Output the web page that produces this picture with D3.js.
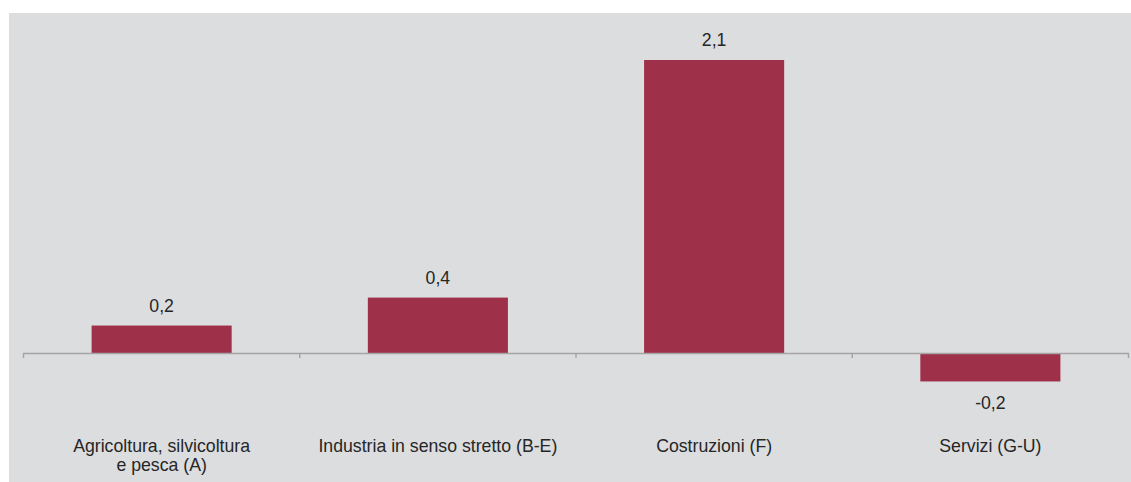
<!DOCTYPE html>
<html><head><meta charset="utf-8">
<script src="https://cdn.jsdelivr.net/npm/d3@7"></script>
<style>html,body{margin:0;padding:0;background:#fff;}svg{display:block;}</style>
</head><body>
<svg id="chart" width="1131" height="482"></svg>
<script>
const categories = [
  ["Agricoltura, silvicoltura", "e pesca (A)"],
  ["Industria in senso stretto (B-E)"],
  ["Costruzioni (F)"],
  ["Servizi (G-U)"]
];
const categoryKeys = ["A", "B-E", "F", "G-U"];
const values = [0.2, 0.4, 2.1, -0.2];
const valueLabels = ["0,2", "0,4", "2,1", "-0,2"];

const svg = d3.select("#chart");
const W = 1131, H = 482;
const font = "'Liberation Sans', Arial, sans-serif";

svg.append("rect").attr("x", 9).attr("y", 13).attr("width", W - 9).attr("height", H - 13)
  .attr("fill", "#dcdddf");

const x = d3.scaleBand().domain(categoryKeys).range([23.5, 1128.5])
  .paddingInner(0.493).paddingOuter(0.2465);
const y = d3.scaleLinear().domain([0, 2.1]).range([353.5, 60]);

// bars
svg.append("g").selectAll("rect").data(values).join("rect")
  .attr("x", (d, i) => x(categoryKeys[i]))
  .attr("width", x.bandwidth())
  .attr("y", d => Math.min(y(d), y(0)))
  .attr("height", d => Math.abs(y(d) - y(0)))
  .attr("fill", "#9f3049");

// axis line
const y0 = y(0);
svg.append("line").attr("x1", 23).attr("x2", 1129).attr("y1", y0).attr("y2", y0)
  .attr("stroke", "#a5a5a5").attr("stroke-width", 1.5);
// ticks at band boundaries
const step = x.step();
const bounds = d3.range(categoryKeys.length + 1).map(i => 23.5 + i * step);
svg.append("g").selectAll("line").data(bounds).join("line")
  .attr("x1", d => d).attr("x2", d => d)
  .attr("y1", y0).attr("y2", y0 + 4.5)
  .attr("stroke", "#a5a5a5").attr("stroke-width", 1.5);

// value labels
svg.append("g").selectAll("text").data(values).join("text")
  .attr("x", (d, i) => x(categoryKeys[i]) + x.bandwidth() / 2)
  .attr("y", d => d >= 0 ? y(d) - 14 : y(d) + 27.5)
  .attr("text-anchor", "middle")
  .attr("font-family", font).attr("font-size", 17.7).attr("fill", "#262626")
  .text((d, i) => valueLabels[i]);

// category labels
const cl = svg.append("g").selectAll("text").data(categories).join("text")
  .attr("x", (d, i) => x(categoryKeys[i]) + x.bandwidth() / 2)
  .attr("y", 451.5)
  .attr("text-anchor", "middle")
  .attr("font-family", font).attr("font-size", 17.7).attr("fill", "#262626");
cl.each(function(lines, i) {
  const t = d3.select(this);
  const cx = x(categoryKeys[i]) + x.bandwidth() / 2;
  lines.forEach((ln, j) => {
    t.append("tspan").attr("x", cx).attr("dy", j === 0 ? 0 : 19).text(ln);
  });
});
</script>
</body></html>
